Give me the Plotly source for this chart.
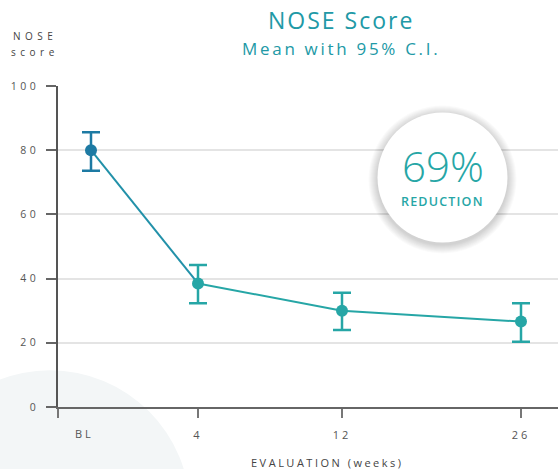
import plotly.graph_objects as go

# ---- data ----
categories = ["BL", "4", "12", "26"]
x_pos = [6.6, 28.0, 56.8, 92.6]          # horizontal placement of each evaluation
means = [80.0, 38.5, 30.0, 26.6]
ci_upper = [85.6, 44.2, 35.6, 32.3]
ci_lower = [73.6, 32.3, 24.0, 20.3]
y_ticks = [0, 20, 40, 60, 80, 100]
reduction_text = "69%"

TEAL = "#26a6a6"
BLUE = "#1d7aa3"
TITLE_C = "#2199a6"
GRAY = "#555555"
FONT = "Open Sans"

err_plus = [u - m for u, m in zip(ci_upper, means)]
err_minus = [m - l for m, l in zip(means, ci_lower)]


def sp(text, ls):
    return f'<span style="letter-spacing:{ls}px">{text}</span>'


fig = go.Figure()

# connecting line (first segment blends blue->teal)
fig.add_trace(go.Scatter(x=x_pos[:2], y=means[:2], mode="lines",
                         line=dict(color="#2291a9", width=2), hoverinfo="skip",
                         showlegend=False, cliponaxis=False))
fig.add_trace(go.Scatter(x=x_pos[1:], y=means[1:], mode="lines",
                         line=dict(color=TEAL, width=2), hoverinfo="skip",
                         showlegend=False, cliponaxis=False))
# baseline point
fig.add_trace(go.Scatter(x=x_pos[:1], y=means[:1], mode="markers",
                         marker=dict(color=BLUE, size=12),
                         error_y=dict(type="data", array=err_plus[:1], arrayminus=err_minus[:1],
                                      color=BLUE, thickness=2.5, width=9),
                         showlegend=False, cliponaxis=False))
# follow-up points
fig.add_trace(go.Scatter(x=x_pos[1:], y=means[1:], mode="markers",
                         marker=dict(color=TEAL, size=12),
                         error_y=dict(type="data", array=err_plus[1:], arrayminus=err_minus[1:],
                                      color=TEAL, thickness=2.5, width=9),
                         showlegend=False, cliponaxis=False))

shapes = []
# big faint background circle bottom-left
shapes.append(dict(type="circle", xref="paper", yref="paper", xsizemode="pixel", ysizemode="pixel",
                   xanchor=-0.016, yanchor=-0.322, x0=-140, x1=140, y0=-140, y1=140,
                   fillcolor="#f3f6f7", line=dict(width=0), layer="below"))
# shadow of callout circle
cx, cy, r = 76.9, 71.5, 65.0
for i in range(1, 10):
    shapes.append(dict(type="circle", xref="x", yref="y", xsizemode="pixel", ysizemode="pixel",
                       xanchor=cx, yanchor=cy, x0=-(r + i), x1=(r + i), y0=-(r + i) - 2, y1=(r + i) - 2,
                       fillcolor="rgba(0,0,0,0.018)", line=dict(width=0), layer="between"))
shapes.append(dict(type="circle", xref="x", yref="y", xsizemode="pixel", ysizemode="pixel",
                   xanchor=cx, yanchor=cy, x0=-r, x1=r, y0=-r, y1=r,
                   fillcolor="white", line=dict(width=0), layer="between"))

annotations = [
    dict(text=sp("NOSE Score", 2), x=0.566, y=1.205, xref="paper", yref="paper",
         showarrow=False, xanchor="center", yanchor="middle",
         font=dict(family=FONT, size=23, color=TITLE_C)),
    dict(text=sp("Mean with 95% C.I.", 2.7), x=0.566, y=1.118, xref="paper", yref="paper",
         showarrow=False, xanchor="center", yanchor="middle",
         font=dict(family=FONT, size=17, color=TITLE_C)),
    dict(text=sp("NOSE", 4.5), x=-0.0455, y=1.156, xref="paper", yref="paper",
         showarrow=False, xanchor="center", yanchor="middle",
         font=dict(family=FONT, size=10, color="#444444")),
    dict(text=sp("score", 4.5), x=-0.0455, y=1.106, xref="paper", yref="paper",
         showarrow=False, xanchor="center", yanchor="middle",
         font=dict(family=FONT, size=10, color="#444444")),
    dict(text=sp("EVALUATION (weeks)", 2.5), x=0.538, y=-0.172, xref="paper", yref="paper",
         showarrow=False, xanchor="center", yanchor="middle",
         font=dict(family=FONT, size=11, color="#444444")),
    dict(text=sp(categories[0], 3), x=5.3, y=-0.084, xref="x", yref="paper",
         showarrow=False, xanchor="center", yanchor="middle",
         font=dict(family=FONT, size=11, color=GRAY)),
    dict(text=reduction_text, x=cx, y=75.2, xref="x", yref="y", showarrow=False,
         xanchor="center", yanchor="middle",
         font=dict(family=FONT, size=42, color=TEAL, weight=300)),
    dict(text=sp("REDUCTION", 1.2), x=cx, y=64.0, xref="x", yref="y", showarrow=False,
         xanchor="center", yanchor="middle",
         font=dict(family=FONT, size=12.5, color=TEAL, weight=600)),
]

fig.update_layout(
    width=558, height=469,
    margin=dict(l=58, r=0, t=86, b=62, pad=0),
    paper_bgcolor="white", plot_bgcolor="white",
    font=dict(family=FONT, color=GRAY),
    shapes=shapes, annotations=annotations,
    xaxis=dict(range=[0, 100], showgrid=False, zeroline=False,
               showline=True, linecolor="#666666", linewidth=1.5,
               tickmode="array", tickvals=[0] + x_pos[1:],
               ticktext=[""] + [sp(c, 3) for c in categories[1:]],
               ticks="outside", ticklen=9, tickwidth=1.5, tickcolor="#777777",
               ticklabelstandoff=8,
               tickfont=dict(family=FONT, size=11, color=GRAY)),
    yaxis=dict(range=[0, 100], showgrid=True, gridcolor="#e4e4e4", gridwidth=1.5,
               zeroline=False, showline=True, linecolor="#555555", linewidth=1.5,
               tickmode="array", tickvals=y_ticks, ticktext=[sp(str(v), 3.5) for v in y_ticks],
               ticks="outside", ticklen=10, tickwidth=1.5, tickcolor="#666666",
               ticklabelstandoff=5,
               tickfont=dict(family=FONT, size=10.5, color=GRAY)),
)

fig.write_html("out.html", config={"displayModeBar": False},
               post_script="document.body.style.margin='0';")
